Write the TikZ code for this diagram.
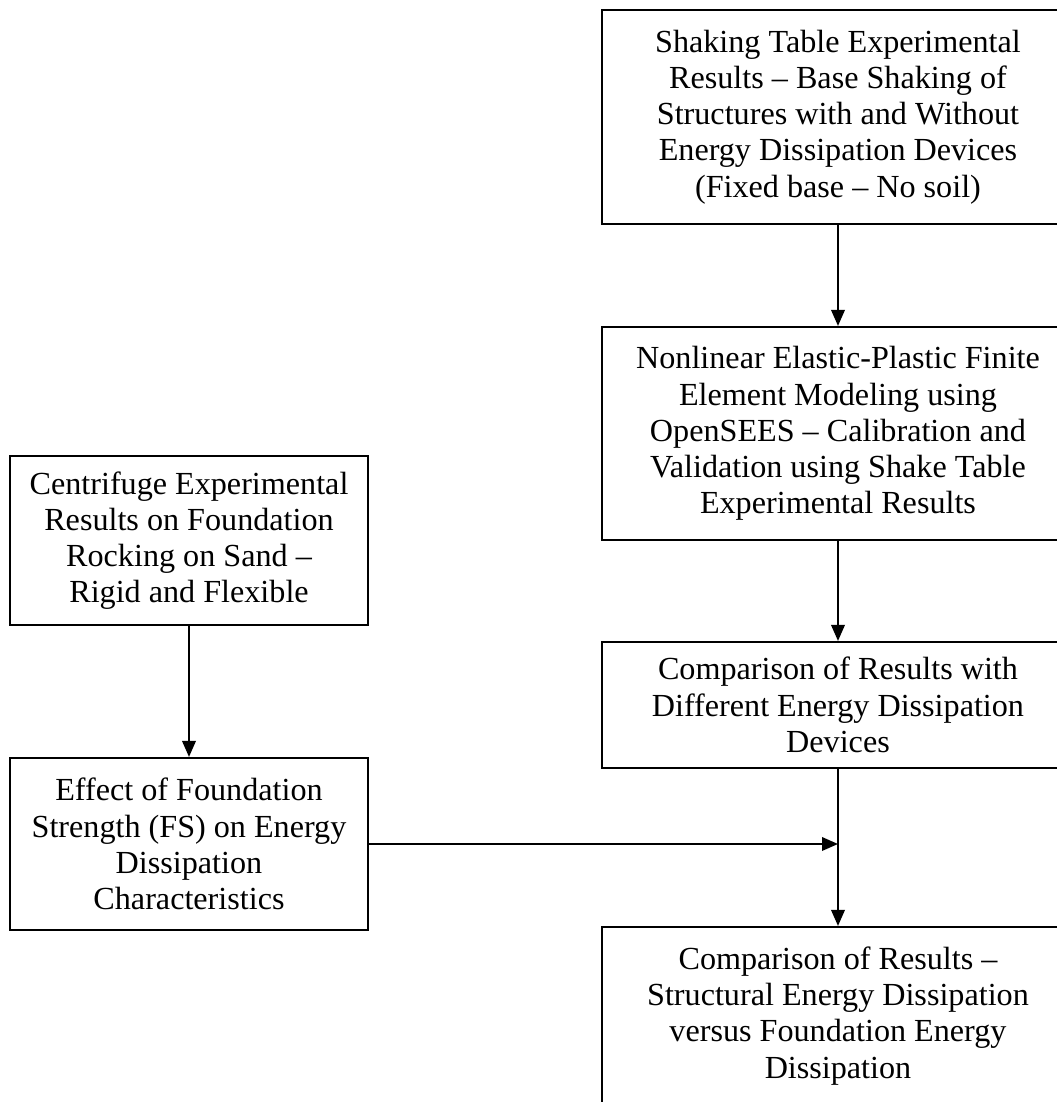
\documentclass[tikz,border=0pt]{standalone}
\usepackage{fontspec}
\setmainfont{Liberation Serif}
\usepackage{tikz}
\usetikzlibrary{arrows.meta, positioning, calc}

\begin{document}
\begin{tikzpicture}[
    box/.style={draw, rectangle, line width=1.2pt, inner sep=0pt, align=center,
                font=\fontsize{18.3}{20.6}\selectfont},
    flow/.style={line width=1.1pt, -{Triangle[length=0.32cm, width=0.27cm]}}
  ]
    \useasboundingbox (0,0) rectangle (21.14,22.04);

    % right column
    \node[box, minimum width=9.44cm, minimum height=4.28cm] (shake) at (16.76,19.70)
        {Shaking Table Experimental\\Results -- Base Shaking of\\Structures with and Without\\Energy Dissipation Devices\\(Fixed base -- No soil)};
    \node[box, minimum width=9.44cm, minimum height=4.26cm] (fem) at (16.76,13.37)
        {Nonlinear Elastic-Plastic Finite\\Element Modeling using\\OpenSEES -- Calibration and\\Validation using Shake Table\\Experimental Results};
    \node[box, minimum width=9.44cm, minimum height=2.52cm] (devices) at (16.76,7.94)
        {Comparison of Results with\\Different Energy Dissipation\\Devices};
    \node[box, minimum width=9.44cm, minimum height=3.56cm] (final) at (16.76,1.72)
        {Comparison of Results --\\Structural Energy Dissipation\\versus Foundation Energy\\Dissipation};

    % left column
    \node[box, minimum width=7.16cm, minimum height=3.38cm] (centrifuge) at (3.78,11.23)
        {Centrifuge Experimental\\Results on Foundation\\Rocking on Sand --\\Rigid and Flexible};
    \node[box, minimum width=7.16cm, minimum height=3.44cm] (strength) at (3.78,5.16)
        {Effect of Foundation\\Strength (FS) on Energy\\Dissipation\\Characteristics};

    \coordinate (merge) at (devices.south |- strength.east);

    \draw[flow] (shake) -- (fem);
    \draw[flow] (fem) -- (devices);
    \draw[flow] (devices) -- (final);
    \draw[flow] (centrifuge) -- (strength);
    \draw[flow] (strength) -- (merge);
\end{tikzpicture}
\end{document}
